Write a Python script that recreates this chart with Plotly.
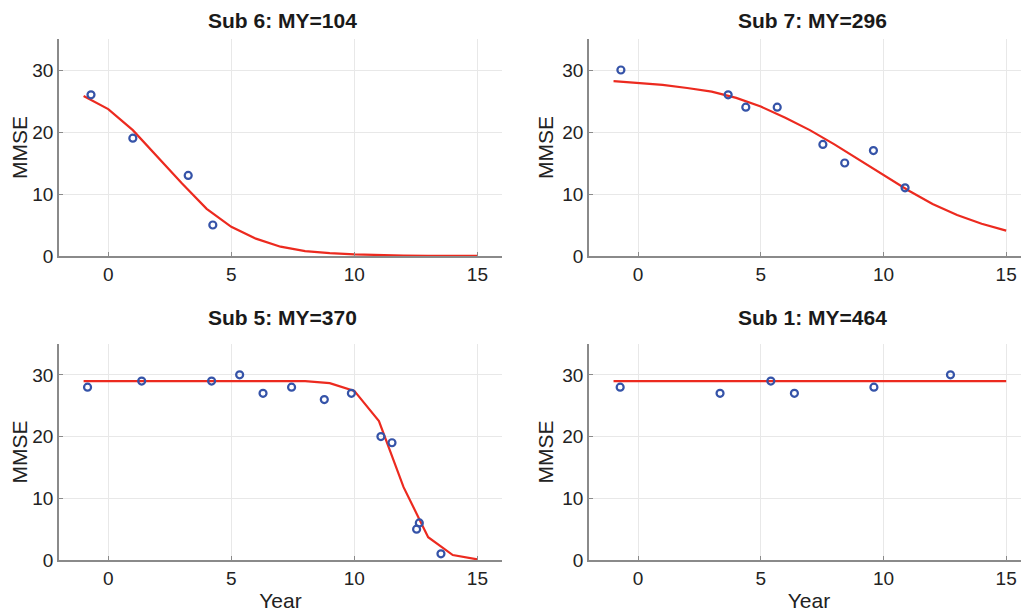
import plotly.graph_objects as go

# ---- data ----
titles = ["Sub 6: MY=104", "Sub 7: MY=296", "Sub 5: MY=370", "Sub 1: MY=464"]

curve_years = list(range(-1, 16))

s6_obs_x = [-0.7, 1.0, 3.25, 4.25]
s6_obs_y = [26, 19, 13, 5]
s6_fit = [25.8, 23.7, 20.3, 16.0, 11.7, 7.6, 4.7, 2.8, 1.5, 0.8, 0.45, 0.25, 0.13, 0.07, 0.04, 0.02, 0.01]

s7_obs_x = [-0.7, 3.67, 4.39, 5.67, 7.53, 8.42, 9.59, 10.88]
s7_obs_y = [30, 26, 24, 24, 18, 15, 17, 11]
s7_fit = [28.2, 27.95, 27.6, 27.1, 26.5, 25.5, 24.1, 22.3, 20.3, 18.0, 15.5, 13.0, 10.6, 8.4, 6.6, 5.2, 4.1]

s5_obs_x = [-0.84, 1.36, 4.2, 5.34, 6.29, 7.45, 8.78, 9.88, 11.08, 11.53, 12.53, 12.64, 13.52]
s5_obs_y = [28, 29, 29, 30, 27, 28, 26, 27, 20, 19, 5, 6, 1]
s5_fit = [29.0, 29.0, 29.0, 29.0, 29.0, 29.0, 29.0, 29.0, 29.0, 29.0, 28.65, 27.4, 22.5, 11.8, 3.7, 0.8, 0.1]

s1_obs_x = [-0.73, 3.34, 5.41, 6.37, 9.61, 12.73]
s1_obs_y = [28, 27, 29, 27, 28, 30]
s1_fit = [29.0] * 17

x_ticks = [0, 5, 10, 15]
y_ticks = [0, 10, 20, 30]

panels = [
    (s6_obs_x, s6_obs_y, s6_fit),
    (s7_obs_x, s7_obs_y, s7_fit),
    (s5_obs_x, s5_obs_y, s5_fit),
    (s1_obs_x, s1_obs_y, s1_fit),
]

# ---- layout geometry (pixels; page body adds an 8px offset) ----
W, H = 1021, 604
x_doms = [(51, 494), (581, 1021), (51, 494), (581, 1021)]
y_doms = [(31, 248), (31, 248), (336, 552), (336, 552)]
x_ranges = [[-2, 16], [-2, 15.93], [-2, 16], [-2, 15.93]]
title_cx = [274, 804, 274, 804]
title_top = [0, 0, 297, 297]

RED = "#ec2a1f"
BLUE = "#3553a8"
AXIS = "#8a8a8a"
GRID = "#e8e8e8"
FONT = "Liberation Sans, Arial, sans-serif"

fig = go.Figure()
layout = dict(
    width=W, height=H,
    margin=dict(l=0, r=0, t=0, b=0, autoexpand=False),
    paper_bgcolor="white", plot_bgcolor="white",
    showlegend=False,
    font=dict(family=FONT, color="#222222"),
)

annotations = []
for i, (ox, oy, fit) in enumerate(panels):
    n = i + 1
    xa = "x" if n == 1 else f"x{n}"
    ya = "y" if n == 1 else f"y{n}"
    fig.add_trace(go.Scatter(
        x=curve_years, y=fit, mode="lines",
        line=dict(color=RED, width=2.2),
        xaxis=xa, yaxis=ya, hoverinfo="skip",
    ))
    fig.add_trace(go.Scatter(
        x=ox, y=oy, mode="markers",
        marker=dict(symbol="circle-open", size=7, color=BLUE, line=dict(width=2.2, color=BLUE)),
        xaxis=xa, yaxis=ya,
    ))
    xd = x_doms[i]
    yd = y_doms[i]
    xkey = "xaxis" if n == 1 else f"xaxis{n}"
    ykey = "yaxis" if n == 1 else f"yaxis{n}"
    layout[xkey] = dict(
        domain=[xd[0] / W, xd[1] / W],
        anchor=ya,
        range=x_ranges[i],
        tickvals=x_ticks,
        ticks="inside", ticklen=4, tickcolor=AXIS, tickwidth=1,
        showline=True, linecolor=AXIS, linewidth=1.6,
        showgrid=True, gridcolor=GRID, gridwidth=1,
        zeroline=False, automargin=False,
        tickfont=dict(size=19, family=FONT, color="#222222"),
        title=dict(text="Year" if i >= 2 else "", font=dict(size=21, family=FONT, color="#222222"), standoff=6),
        fixedrange=True,
    )
    layout[ykey] = dict(
        domain=[1 - yd[1] / H, 1 - yd[0] / H],
        anchor=xa,
        range=[0, 35],
        tickvals=y_ticks,
        ticks="inside", ticklen=4, tickcolor=AXIS, tickwidth=1,
        showline=True, linecolor=AXIS, linewidth=1.6,
        showgrid=True, gridcolor=GRID, gridwidth=1,
        zeroline=False, automargin=False,
        tickfont=dict(size=19, family=FONT, color="#222222"),
        title=dict(text="MMSE", font=dict(size=21, family=FONT, color="#222222"), standoff=3),
        fixedrange=True,
    )
    annotations.append(dict(
        text=f"<b>{titles[i]}</b>",
        x=title_cx[i] / W, xref="paper",
        y=1 - title_top[i] / H, yref="paper",
        xanchor="center", yanchor="top",
        borderpad=0,
        showarrow=False,
        font=dict(size=21, family=FONT, color="#1a1a1a"),
    ))

layout["annotations"] = annotations
fig.update_layout(**layout)
fig.write_html("out.html")
